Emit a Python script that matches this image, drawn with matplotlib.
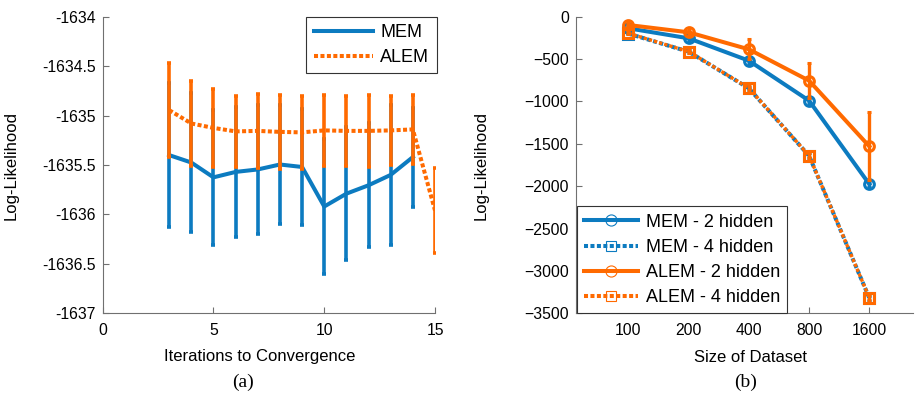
import matplotlib
matplotlib.use('Agg')
import matplotlib.pyplot as plt
from matplotlib.lines import Line2D

plt.rcParams['font.family'] = ['Liberation Sans', 'DejaVu Sans']

# colours
BLUE = '#0C7BC0'
ORANGE = '#FF6A00'
AXC = '#707070'

# (a) iterations to convergence
iters_mem = [3, 4, 5, 6, 7, 8, 9, 10, 11, 12, 13, 14]
ll_mem = [-1635.40, -1635.475, -1635.625, -1635.57, -1635.545, -1635.495,
          -1635.52, -1635.92, -1635.79, -1635.705, -1635.60, -1635.42]
err_mem = [0.725, 0.705, 0.685, 0.66, 0.655, 0.605, 0.59, 0.68, 0.67, 0.625, 0.71, 0.50]

iters_alem = [3, 4, 5, 6, 7, 8, 9, 10, 11, 12, 13, 14, 15]
ll_alem = [-1634.945, -1635.08, -1635.125, -1635.16, -1635.155, -1635.165,
           -1635.17, -1635.15, -1635.155, -1635.155, -1635.15, -1635.14, -1635.96]
err_alem = [0.475, 0.43, 0.395, 0.36, 0.375, 0.375, 0.37, 0.36, 0.355, 0.365, 0.35, 0.35, 0.43]

# (b) size of dataset
sizes = ['100', '200', '400', '800', '1600']
mem2 = [-137, -255, -519, -991, -1976]
mem2_err = [15, 20, 25, 30, 30]
mem4 = [-200, -413, -845, -1642, -3320]
mem4_err = [10, 15, 20, 30, 30]
alem2 = [-98, -184, -385, -755, -1530]
alem2_err = [30, 35, 118, 205, 400]
alem4 = [-196, -411, -843, -1640, -3318]
alem4_err = [10, 15, 20, 30, 30]

W, H = 917, 396
fig = plt.figure(figsize=(W / 100, H / 100), dpi=100)

def box(l, t, r, b):
    return [l / W, 1 - b / H, (r - l) / W, (b - t) / H]

dot = (0, (1, 0.6))

# ---- panel (a)
ax1 = fig.add_axes(box(102.7, 16.7, 435, 313.3))
ax1.errorbar(iters_mem, ll_mem, yerr=err_mem, color=BLUE, lw=2.9, elinewidth=2.6,
             capsize=1.6, capthick=2.6, label='MEM', zorder=2)
ax1.errorbar(iters_alem, ll_alem, yerr=err_alem, color=ORANGE, lw=2.9, ls=dot,
             elinewidth=2.6, capsize=1.6, capthick=2.6, label='ALEM', zorder=3)
ax1.set_xlim(0, 15)
ax1.set_ylim(-1637, -1634)
ax1.set_xticks([0, 5, 10, 15])
ax1.set_yticks([-1634, -1634.5, -1635, -1635.5, -1636, -1636.5, -1637])
ax1.set_yticklabels(['-1634', '-1634.5', '-1635', '-1635.5', '-1636', '-1636.5', '-1637'])
ax1.set_ylabel('Log-Likelihood', fontsize=12)
ax1.yaxis.set_label_coords(-0.253, 0.5)
h1 = [Line2D([], [], color=BLUE, lw=2.9), Line2D([], [], color=ORANGE, lw=2.9, ls=dot)]
leg1 = ax1.legend(h1, ['MEM', 'ALEM'], loc='upper right', bbox_to_anchor=(1.005, 1.0),
                  fontsize=13, frameon=True, fancybox=False, framealpha=1,
                  edgecolor='#333333', borderaxespad=0, handlelength=3.3,
                  labelspacing=0.45, borderpad=0.4, handletextpad=0.4)
leg1.get_frame().set_linewidth(0.8)

# ---- panel (b)
x = list(range(1, len(sizes) + 1))
ax2 = fig.add_axes(box(576, 16.7, 913, 313.3))
ax2.errorbar(x, mem2, yerr=mem2_err, color=BLUE, lw=2.9, marker='o', ms=7, mfc='none',
             mew=2.2, elinewidth=2.4, capsize=1.5, capthick=2.4, zorder=2)
ax2.errorbar(x, mem4, yerr=mem4_err, color=BLUE, lw=2.9, ls=dot, marker='s', ms=6.5,
             mfc='none', mew=2.2, elinewidth=2.4, capsize=1.5, capthick=2.4, zorder=2)
ax2.errorbar(x, alem2, yerr=alem2_err, color=ORANGE, lw=2.9, marker='o', ms=7, mfc='none',
             mew=2.2, elinewidth=2.4, capsize=1.5, capthick=2.4, zorder=3)
ax2.errorbar(x, alem4, yerr=alem4_err, color=ORANGE, lw=2.4, ls=dot, marker='s', ms=6.5,
             mfc='none', mew=2.2, elinewidth=2.4, capsize=1.5, capthick=2.4, zorder=3)
ax2.set_xlim(0.13, 5.725)
ax2.set_ylim(-3500, 0)
ax2.set_xticks(x)
ax2.set_xticklabels(sizes)
ax2.set_yticks(range(-3500, 1, 500))
ax2.set_ylabel('Log-Likelihood', fontsize=12)
ax2.yaxis.set_label_coords(-0.258, 0.5)
h2 = [Line2D([], [], color=BLUE, lw=2.9, marker='o', ms=8, mfc='none', mew=0.8),
      Line2D([], [], color=BLUE, lw=2.9, ls=dot, marker='s', ms=7, mfc='none', mew=0.8),
      Line2D([], [], color=ORANGE, lw=2.9, marker='o', ms=8, mfc='none', mew=0.8),
      Line2D([], [], color=ORANGE, lw=2.9, ls=dot, marker='s', ms=7, mfc='none', mew=0.8)]
leg2 = ax2.legend(h2, ['MEM - 2 hidden', 'MEM - 4 hidden', 'ALEM - 2 hidden', 'ALEM - 4 hidden'],
                  loc='lower left', bbox_to_anchor=(0.003, 0.0), fontsize=13, frameon=True,
                  fancybox=False, framealpha=1, edgecolor='#333333', borderaxespad=0,
                  handlelength=3.0, labelspacing=0.45, borderpad=0.4, handletextpad=0.4)
leg2.get_frame().set_linewidth(0.8)

for ax in (ax1, ax2):
    for s in ('top', 'right'):
        ax.spines[s].set_visible(False)
    for s in ('left', 'bottom'):
        ax.spines[s].set_color(AXC)
        ax.spines[s].set_linewidth(0.8)
    ax.tick_params(direction='in', length=4, width=0.8, color=AXC, labelsize=11.3,
                   labelcolor='black')
    ax.tick_params(axis='x', pad=7)
    ax.tick_params(axis='y', pad=5)

# axis labels and panel captions
fig.text(260 / W, 1 - 357 / H, 'Iterations to Convergence', ha='center', va='center', fontsize=12)
fig.text(751 / W, 1 - 357 / H, 'Size of Dataset', ha='center', va='center', fontsize=12)
fig.text(243 / W, 1 - 382 / H, '(a)', ha='center', va='center', fontsize=14,
         family=['Liberation Serif', 'DejaVu Serif'])
fig.text(746 / W, 1 - 382 / H, '(b)', ha='center', va='center', fontsize=14,
         family=['Liberation Serif', 'DejaVu Serif'])

fig.savefig('out.png', dpi=100)
